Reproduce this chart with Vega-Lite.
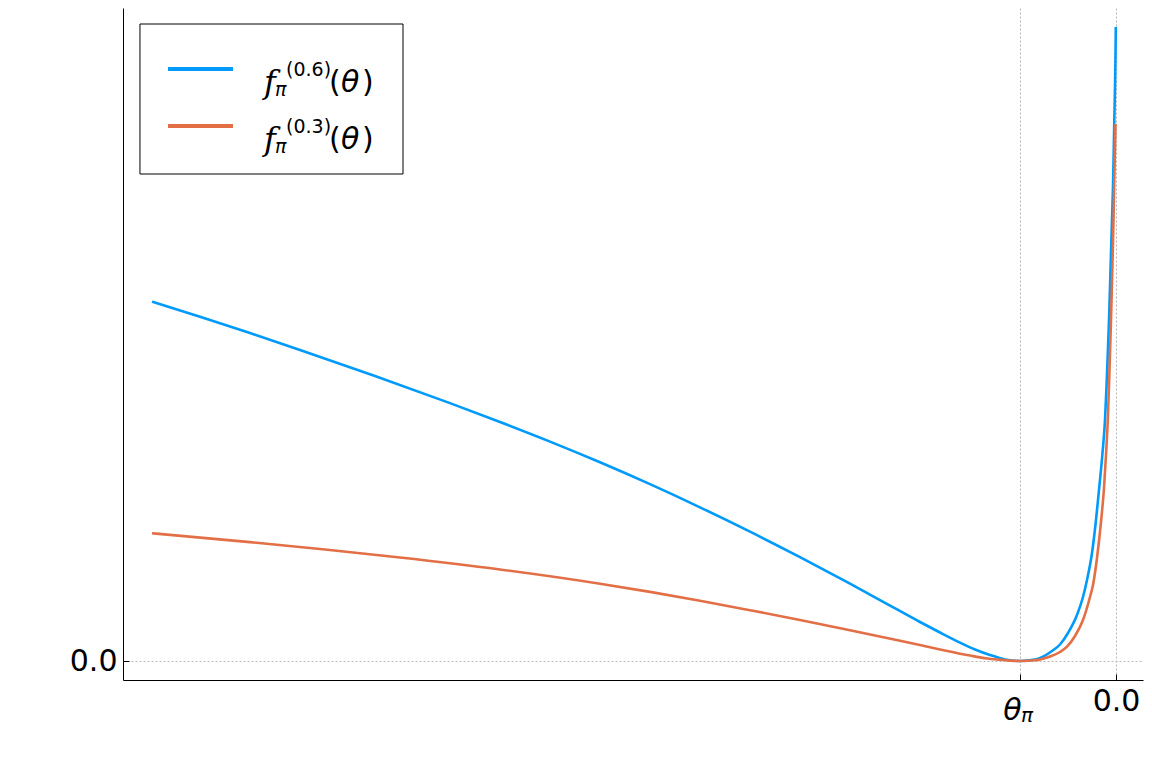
{
  "$schema": "https://vega.github.io/schema/vega-lite/v6.json",
  "width": 1020,
  "height": 672,
  "autosize": {"type": "none"},
  "padding": {"left": 123, "top": 8, "right": 9, "bottom": 88},
  "background": "white",
  "data": {"values": [{}]},
  "config": {
    "view": {"stroke": null},
    "font": "DejaVu Sans",
    "axis": {
      "domainColor": "black",
      "domainWidth": 1,
      "tickColor": "black",
      "tickSize": -6,
      "tickWidth": 1,
      "labelPadding": 12,
      "labelFontSize": 30,
      "labelColor": "black",
      "labelFont": "DejaVu Sans",
      "gridColor": "#b8b8b8",
      "gridDash": [2, 2],
      "gridWidth": 1,
      "title": null
    }
  },
  "datasets": {
    "f06": [
      {"x": -10.0417, "y": 3.593}, {"x": -9.5417, "y": 3.442}, {"x": -9.0208, "y": 3.2795},
      {"x": -8.5, "y": 3.111}, {"x": -7.7188, "y": 2.8504}, {"x": -6.9375, "y": 2.5785},
      {"x": -6.4167, "y": 2.3895}, {"x": -5.8958, "y": 2.1935}, {"x": -5.375, "y": 1.987},
      {"x": -4.8542, "y": 1.7685}, {"x": -4.3333, "y": 1.537}, {"x": -3.8125, "y": 1.2935},
      {"x": -3.2917, "y": 1.0385}, {"x": -2.7708, "y": 0.7735}, {"x": -2.4063, "y": 0.582},
      {"x": -2.0417, "y": 0.39}, {"x": -1.8333, "y": 0.285}, {"x": -1.625, "y": 0.184},
      {"x": -1.4688, "y": 0.115}, {"x": -1.3125, "y": 0.06}, {"x": -1.1563, "y": 0.016},
      {"x": -1.0833, "y": 0.005}, {"x": -1.0, "y": 0.0}, {"x": -0.8438, "y": 0.015},
      {"x": -0.7604, "y": 0.043}, {"x": -0.6667, "y": 0.10}, {"x": -0.5833, "y": 0.165},
      {"x": -0.5, "y": 0.28}, {"x": -0.4063, "y": 0.46}, {"x": -0.3438, "y": 0.64},
      {"x": -0.3021, "y": 0.81}, {"x": -0.25, "y": 1.08}, {"x": -0.2083, "y": 1.41},
      {"x": -0.1771, "y": 1.71}, {"x": -0.1406, "y": 2.08}, {"x": -0.1146, "y": 2.41},
      {"x": -0.099, "y": 2.74}, {"x": -0.0854, "y": 3.08}, {"x": -0.0729, "y": 3.41},
      {"x": -0.0625, "y": 3.74}, {"x": -0.0521, "y": 4.08}, {"x": -0.0417, "y": 4.41},
      {"x": -0.03125, "y": 4.74}, {"x": -0.024, "y": 5.08}, {"x": -0.0177, "y": 5.41},
      {"x": -0.0104, "y": 5.74}, {"x": -0.0052, "y": 6.06}, {"x": -0.0021, "y": 6.34}
    ],
    "f03": [
      {"x": -10.0417, "y": 1.277}, {"x": -9.0208, "y": 1.189}, {"x": -8.2396, "y": 1.115},
      {"x": -7.4583, "y": 1.0355}, {"x": -6.4167, "y": 0.9155}, {"x": -5.375, "y": 0.773},
      {"x": -4.8542, "y": 0.691}, {"x": -4.3333, "y": 0.603}, {"x": -3.8125, "y": 0.508},
      {"x": -3.2917, "y": 0.4105}, {"x": -2.7708, "y": 0.308}, {"x": -2.25, "y": 0.203},
      {"x": -1.8333, "y": 0.116}, {"x": -1.5208, "y": 0.0545}, {"x": -1.3646, "y": 0.028},
      {"x": -1.2083, "y": 0.012}, {"x": -1.1042, "y": 0.004}, {"x": -1.0, "y": 0.0},
      {"x": -0.8438, "y": 0.007}, {"x": -0.6875, "y": 0.045}, {"x": -0.5833, "y": 0.09},
      {"x": -0.5104, "y": 0.143}, {"x": -0.4271, "y": 0.25}, {"x": -0.3438, "y": 0.41},
      {"x": -0.2708, "y": 0.64}, {"x": -0.2396, "y": 0.76}, {"x": -0.1979, "y": 1.03},
      {"x": -0.1563, "y": 1.39}, {"x": -0.125, "y": 1.73}, {"x": -0.1042, "y": 2.06},
      {"x": -0.0833, "y": 2.46}, {"x": -0.0677, "y": 2.91}, {"x": -0.0521, "y": 3.41},
      {"x": -0.0385, "y": 3.91}, {"x": -0.026, "y": 4.41}, {"x": -0.0156, "y": 4.91},
      {"x": -0.0052, "y": 5.37}
    ]
  },
  "layer": [
    {
      "data": {"name": "f06"},
      "mark": {"type": "line", "color": "#009AFA", "strokeWidth": 2.6, "interpolate": "monotone"},
      "encoding": {
        "x": {"field": "x", "type": "quantitative", "scale": {"domain": [-10.34375, 0.28125], "nice": false, "zero": false},
          "axis": {"values": [-1, 0], "grid": true, "labelExpr": "datum.value == 0 ? '0.0' : ''"}},
        "y": {"field": "y", "type": "quantitative", "scale": {"domain": [-0.19, 6.53], "nice": false, "zero": false},
          "axis": {"values": [0], "grid": true, "labelExpr": "'0.0'"}}
      }
    },
    {
      "data": {"name": "f03"},
      "mark": {"type": "line", "color": "#E26F46", "strokeWidth": 2.6, "interpolate": "monotone"},
      "encoding": {
        "x": {"field": "x", "type": "quantitative"},
        "y": {"field": "y", "type": "quantitative"}
      }
    },
    {
      "mark": {"type": "text", "text": "θ", "fontStyle": "italic", "fontSize": 30, "align": "center", "dx": -7.5, "color": "black"},
      "encoding": {"x": {"datum": -1}, "y": {"datum": -0.50}}
    },
    {
      "mark": {"type": "text", "text": "π", "fontStyle": "italic", "fontSize": 20, "align": "left", "dx": 1, "color": "black"},
      "encoding": {"x": {"datum": -1}, "y": {"datum": -0.55}}
    },
    {
      "mark": {"type": "rect", "fill": "white", "stroke": "black", "strokeWidth": 1},
      "encoding": {"x": {"datum": -10.167}, "x2": {"datum": -7.427}, "y": {"datum": 6.37}, "y2": {"datum": 4.87}}
    },
    {
      "mark": {"type": "rule", "color": "#009AFA", "strokeWidth": 4},
      "encoding": {"x": {"datum": -9.875}, "x2": {"datum": -9.198}, "y": {"datum": 5.92}}
    },
    {
      "mark": {"type": "rule", "color": "#E26F46", "strokeWidth": 4},
      "encoding": {"x": {"datum": -9.875}, "x2": {"datum": -9.198}, "y": {"datum": 5.35}}
    },
    {
      "mark": {"type": "text", "text": "f", "font": "DejaVu Serif", "fontStyle": "italic", "fontSize": 32, "align": "left", "dx": 3, "color": "black"},
      "encoding": {"x": {"datum": -8.906}, "y": {"datum": 5.78}}
    },
    {
      "mark": {"type": "text", "text": "π", "fontStyle": "italic", "fontSize": 19, "align": "left", "dx": 14, "dy": 7, "color": "black"},
      "encoding": {"x": {"datum": -8.906}, "y": {"datum": 5.78}}
    },
    {
      "mark": {"type": "text", "text": "(0.6)", "fontSize": 19, "align": "left", "dx": 25, "dy": -13.5, "color": "black"},
      "encoding": {"x": {"datum": -8.906}, "y": {"datum": 5.78}}
    },
    {
      "mark": {"type": "text", "text": "(", "fontSize": 30, "align": "left", "dx": 68, "color": "black"},
      "encoding": {"x": {"datum": -8.906}, "y": {"datum": 5.78}}
    },
    {
      "mark": {"type": "text", "text": "θ", "fontStyle": "italic", "fontSize": 30, "align": "left", "dx": 80, "color": "black"},
      "encoding": {"x": {"datum": -8.906}, "y": {"datum": 5.78}}
    },
    {
      "mark": {"type": "text", "text": ")", "fontSize": 30, "align": "left", "dx": 101, "color": "black"},
      "encoding": {"x": {"datum": -8.906}, "y": {"datum": 5.78}}
    },
    {
      "mark": {"type": "text", "text": "f", "font": "DejaVu Serif", "fontStyle": "italic", "fontSize": 32, "align": "left", "dx": 3, "color": "black"},
      "encoding": {"x": {"datum": -8.906}, "y": {"datum": 5.21}}
    },
    {
      "mark": {"type": "text", "text": "π", "fontStyle": "italic", "fontSize": 19, "align": "left", "dx": 14, "dy": 7, "color": "black"},
      "encoding": {"x": {"datum": -8.906}, "y": {"datum": 5.21}}
    },
    {
      "mark": {"type": "text", "text": "(0.3)", "fontSize": 19, "align": "left", "dx": 25, "dy": -13.5, "color": "black"},
      "encoding": {"x": {"datum": -8.906}, "y": {"datum": 5.21}}
    },
    {
      "mark": {"type": "text", "text": "(", "fontSize": 30, "align": "left", "dx": 68, "color": "black"},
      "encoding": {"x": {"datum": -8.906}, "y": {"datum": 5.21}}
    },
    {
      "mark": {"type": "text", "text": "θ", "fontStyle": "italic", "fontSize": 30, "align": "left", "dx": 80, "color": "black"},
      "encoding": {"x": {"datum": -8.906}, "y": {"datum": 5.21}}
    },
    {
      "mark": {"type": "text", "text": ")", "fontSize": 30, "align": "left", "dx": 101, "color": "black"},
      "encoding": {"x": {"datum": -8.906}, "y": {"datum": 5.21}}
    }
  ]
}
